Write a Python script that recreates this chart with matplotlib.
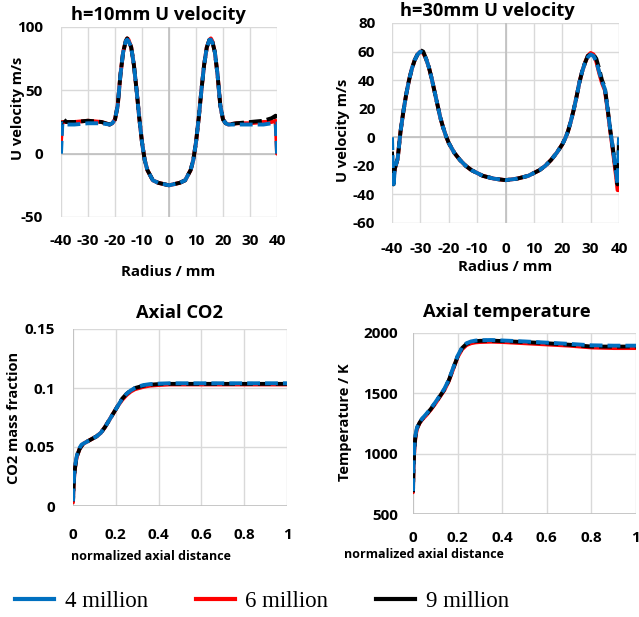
import numpy as np
import matplotlib
matplotlib.use("Agg")
import matplotlib.pyplot as plt
from matplotlib.lines import Line2D

W, H = 639, 617
plt.rcParams["axes.unicode_minus"] = False

# ---- h=10mm U velocity ----
r10 = [-40, -39.5, -38, -35, -30, -25, -22, -21, -20, -19, -18.5, -18, -17, -16, -15.5, -15,
       -14, -13, -12, -11, -10, -9, -8, -6, -4, -2, 0, 2, 4, 6, 8, 9, 10, 11, 12, 13, 14,
       15, 15.5, 16, 17, 18, 18.5, 19, 20, 21, 22, 25, 30, 35, 38, 39.5, 40]
u10_6m = [10, 25, 25, 25, 26, 25, 23, 24, 27, 38, 50, 62, 80, 89, 91, 90,
          84, 70, 50, 28, 9, -5, -13, -21, -23, -24, -25, -24, -23, -21, -13, -5, 9, 28, 50, 70, 84,
          90, 91, 89, 80, 62, 50, 38, 27, 24, 23, 24, 24, 25, 25, 26, 0]
u10_4m = [0, 24, 23, 23, 24, 24, 23, 24, 27, 38, 50, 62, 80, 89, 90, 89,
          84, 70, 50, 28, 9, -5, -13, -21, -23, -24, -25, -24, -23, -21, -13, -5, 9, 28, 50, 70, 84,
          90, 90, 88, 80, 62, 50, 38, 27, 24, 23, 23, 23, 23, 24, 24, 0]
u10_9m = [22, 28, 25, 25, 26, 25, 23, 24, 27, 38, 50, 62, 80, 89, 91, 90,
          84, 70, 50, 28, 9, -5, -13, -21, -23, -24, -25, -24, -23, -21, -13, -5, 9, 28, 50, 70, 84,
          90, 91, 89, 80, 62, 50, 38, 27, 24, 23, 24, 25, 26, 28, 30, 26]

# ---- h=30mm U velocity ----
r30 = [-40, -39.5, -39, -38, -37, -36, -35, -34, -33, -32, -31, -30, -29, -28, -27, -26, -25,
       -24, -23, -22, -21, -20, -18, -16, -14, -12, -10, -8, -6, -4, -2, 0, 2, 4, 6, 8, 10,
       12, 14, 16, 18, 20, 21, 22, 23, 24, 25, 26, 27, 28, 29, 30, 31, 32, 33, 34, 35, 36,
       37, 38, 39, 39.5, 40]
u30_6m = [-15, -30, -22, -15, 4, 18, 30, 40, 48, 54, 58, 60, 59, 55, 49, 41, 32,
          23, 14, 7, 1, -4, -11, -16, -20, -23, -25, -27, -28, -29, -29.5, -30, -29.5, -29, -28, -27, -25,
          -23, -20, -16, -11, -5, -1, 4, 11, 19, 28, 38, 46, 52, 57, 59, 58, 53, 45, 38, 33, 19,
          3, -12, -28, -37, -37]
u30_4m = [0, -35, -22, -15, 4, 18, 30, 40, 48, 54, 58, 60, 59, 55, 49, 41, 32,
          23, 14, 7, 1, -4, -11, -16, -20, -23, -25, -27, -28, -29, -29.5, -30, -29.5, -29, -28, -27, -25,
          -23, -20, -16, -11, -5, -1, 4, 11, 19, 28, 38, 46, 52, 56, 58, 57, 53, 46, 39, 34, 20,
          4, -10, -25, -33, 0]
u30_9m = [-10, -33, -22, -15, 4, 18, 30, 40, 48, 54, 58, 61, 60, 55, 49, 41, 32,
          23, 14, 7, 1, -4, -11, -16, -20, -23, -25, -27, -28, -29, -29.5, -30, -29.5, -29, -28, -27, -25,
          -23, -20, -16, -11, -5, -1, 4, 11, 19, 28, 38, 46, 52, 57, 58, 58, 55, 48, 40, 35, 20,
          4, -10, -25, -33, -2]

# ---- Axial CO2 ----
z_co2 = [0, 0.003, 0.006, 0.01, 0.015, 0.02, 0.03, 0.04, 0.05, 0.07, 0.09, 0.11, 0.13, 0.15,
         0.17, 0.19, 0.21, 0.23, 0.25, 0.27, 0.29, 0.31, 0.33, 0.36, 0.4, 0.45, 0.5, 0.6, 0.7,
         0.8, 0.9, 1.0]
co2_6m = [0.003, 0.018, 0.026, 0.033, 0.039, 0.043, 0.048, 0.051, 0.053, 0.055, 0.057, 0.059,
          0.062, 0.067, 0.073, 0.079, 0.085, 0.09, 0.094, 0.097, 0.099, 0.1, 0.101, 0.102,
          0.1025, 0.103, 0.103, 0.103, 0.103, 0.103, 0.103, 0.103]
co2_4m = [0.004, 0.019, 0.027, 0.034, 0.04, 0.044, 0.049, 0.052, 0.053, 0.055, 0.057, 0.059,
          0.062, 0.067, 0.073, 0.079, 0.085, 0.091, 0.095, 0.098, 0.1, 0.1015, 0.1025, 0.1033,
          0.1037, 0.104, 0.104, 0.104, 0.104, 0.104, 0.104, 0.104]
co2_9m = [0.004, 0.018, 0.026, 0.033, 0.039, 0.043, 0.048, 0.051, 0.053, 0.055, 0.057, 0.059,
          0.062, 0.067, 0.073, 0.079, 0.085, 0.091, 0.095, 0.098, 0.1, 0.101, 0.102, 0.1028,
          0.1033, 0.1035, 0.1035, 0.1035, 0.1035, 0.1035, 0.1035, 0.1035]

# ---- Axial temperature ----
z_t = [0, 0.002, 0.005, 0.01, 0.015, 0.02, 0.03, 0.04, 0.06, 0.08, 0.1, 0.12, 0.14, 0.16,
       0.18, 0.2, 0.22, 0.24, 0.26, 0.28, 0.3, 0.35, 0.4, 0.5, 0.6, 0.7, 0.8, 0.9, 1.0]
t_6m = [680, 850, 1000, 1120, 1180, 1215, 1255, 1280, 1320, 1365, 1415, 1470, 1525, 1600,
        1700, 1800, 1865, 1900, 1915, 1922, 1925, 1928, 1925, 1915, 1905, 1895, 1880, 1875, 1875]
t_4m = [690, 870, 1020, 1140, 1195, 1225, 1262, 1288, 1330, 1375, 1425, 1480, 1535, 1610,
        1710, 1810, 1880, 1915, 1930, 1937, 1940, 1942, 1938, 1930, 1920, 1910, 1898, 1895, 1895]
t_9m = [680, 860, 1010, 1130, 1190, 1220, 1258, 1285, 1325, 1370, 1420, 1475, 1530, 1605,
        1705, 1805, 1875, 1910, 1925, 1932, 1935, 1937, 1933, 1925, 1915, 1903, 1888, 1887, 1888]

series = ["4 million", "6 million", "9 million"]
colors = {"4 million": "#0070C0", "6 million": "#FF0000", "9 million": "#000000"}

FONT = "Open Sans"
TICK_FS = 11


def px(x, y):
    return x / W, 1 - y / H


def axes_px(left, top, right, bottom):
    return [left / W, 1 - bottom / H, (right - left) / W, (bottom - top) / H]


def draw(ax, x, y4, y6, y9):
    ax.plot(x, y6, color=colors["6 million"], lw=2.8, zorder=3, solid_capstyle="round")
    ax.plot(x, y9, color=colors["9 million"], lw=2.8, zorder=4, linestyle=(2.0, (3.3, 1.3)))
    ax.plot(x, y4, color=colors["4 million"], lw=2.8, zorder=5, linestyle=(0, (3.3, 1.3)))


def style(ax, xpad, ypad):
    for s in ax.spines.values():
        s.set_visible(False)
    ax.grid(True, color="#d9d9d9", lw=1.0)
    ax.set_axisbelow(True)
    ax.tick_params(length=0, labelsize=TICK_FS, pad=0)
    ax.tick_params(axis="x", pad=xpad)
    ax.tick_params(axis="y", pad=ypad)
    for lab in ax.get_xticklabels() + ax.get_yticklabels():
        lab.set_fontfamily(FONT)
        lab.set_fontweight("bold")


fig = plt.figure(figsize=(W / 100, H / 100), dpi=100)

# panel 1
ax1 = fig.add_axes(axes_px(61, 27, 277, 217))
draw(ax1, r10, u10_4m, u10_6m, u10_9m)
ax1.set_xlim(-40, 40)
ax1.set_ylim(-50, 100)
ax1.set_xticks(np.arange(-40, 41, 10))
ax1.set_yticks([-50, 0, 50, 100])
ax1.axvline(0, color="#bfbfbf", lw=1.2, zorder=1)
ax1.axhline(0, color="#bfbfbf", lw=1.2, zorder=1)
style(ax1, 12, 13)

# panel 2
ax2 = fig.add_axes(axes_px(392, 23, 619, 223))
draw(ax2, r30, u30_4m, u30_6m, u30_9m)
ax2.set_xlim(-40, 40)
ax2.set_ylim(-60, 80)
ax2.set_xticks(np.arange(-40, 41, 10))
ax2.set_yticks(np.arange(-60, 81, 20))
ax2.axvline(0, color="#bfbfbf", lw=1.2, zorder=1)
ax2.axhline(0, color="#bfbfbf", lw=1.2, zorder=1)
style(ax2, 14, 12)

# panel 3
ax3 = fig.add_axes(axes_px(73, 329, 287, 506))
draw(ax3, z_co2, co2_4m, co2_6m, co2_9m)
ax3.set_xlim(0, 1)
ax3.set_ylim(0, 0.15)
ax3.set_xticks([0, 0.2, 0.4, 0.6, 0.8, 1])
ax3.set_xticklabels(["0", "0.2", "0.4", "0.6", "0.8", "1"])
ax3.set_yticks([0, 0.05, 0.1, 0.15])
ax3.set_yticklabels(["0", "0.05", "0.1", "0.15"])
ax3.axvline(0, color="#bfbfbf", lw=1.2, zorder=1)
ax3.axhline(0, color="#bfbfbf", lw=1.2, zorder=1)
style(ax3, 16, 13)

# panel 4
ax4 = fig.add_axes(axes_px(413, 333, 636, 514))
draw(ax4, z_t, t_4m, t_6m, t_9m)
ax4.set_xlim(0, 1)
ax4.set_ylim(500, 2000)
ax4.set_xticks([0, 0.2, 0.4, 0.6, 0.8, 1])
ax4.set_xticklabels(["0", "0.2", "0.4", "0.6", "0.8", "1"])
ax4.set_yticks([500, 1000, 1500, 2000])
ax4.axvline(0, color="#bfbfbf", lw=1.2, zorder=1)
ax4.axhline(500, color="#bfbfbf", lw=1.2, zorder=1)
style(ax4, 12.5, 11)

# titles and axis labels, placed like the original composite
tkw = dict(family=FONT, weight="bold", ha="center", va="center")
fig.text(*px(158, 15), "h=10mm U velocity", fontsize=13.2, **tkw)
fig.text(*px(487, 11), "h=30mm U velocity", fontsize=13.2, **tkw)
fig.text(*px(179, 313), "Axial CO2", fontsize=13.2, **tkw)
fig.text(*px(507, 312), "Axial temperature", fontsize=13.2, **tkw)

fig.text(*px(18, 108), "U velocity m/s", fontsize=10.5, rotation=90, **tkw)
fig.text(*px(343, 130), "U velocity m/s", fontsize=10.5, rotation=90, **tkw)
fig.text(*px(14, 418), "CO2 mass fraction", fontsize=10.5, rotation=90, **tkw)
fig.text(*px(345, 422), "Temperature / K", fontsize=10.5, rotation=90, **tkw)

fig.text(*px(168, 272), "Radius / mm", fontsize=10.8, **tkw)
fig.text(*px(505, 267), "Radius / mm", fontsize=10.8, **tkw)
fig.text(*px(151, 557), "normalized axial distance", fontsize=9, **tkw)
fig.text(*px(424, 554), "normalized axial distance", fontsize=9, **tkw)

handles = [Line2D([], [], color=colors[s], lw=3) for s in series]
fig.legend(handles, series, loc="center", bbox_to_anchor=px(262, 601), ncol=3,
           frameon=False, prop={"family": "Liberation Serif", "size": 16.5},
           handlelength=1.7, handletextpad=0.45, columnspacing=2.1)

fig.savefig("out.png", dpi=100)
